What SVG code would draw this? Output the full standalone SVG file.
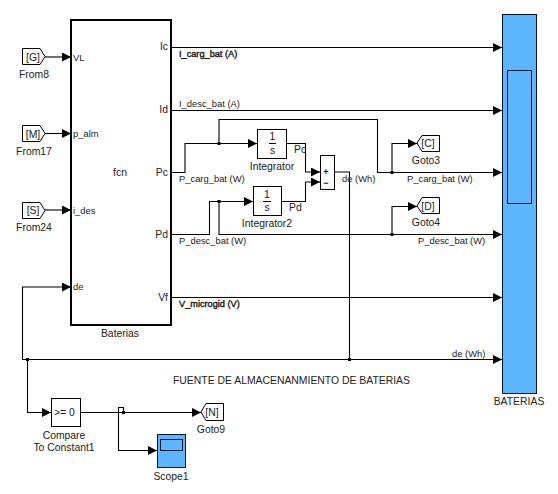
<svg xmlns="http://www.w3.org/2000/svg" width="558" height="494" viewBox="0 0 558 494">
<style>
text{font-family:"Liberation Sans",Arial,sans-serif;font-size:10.4px;fill:#222}
.m{text-anchor:middle}
.e{text-anchor:end}
.l{font-size:9.4px}
.b{font-size:9.2px;fill:#111;stroke:#111;stroke-width:.35px}
.g{font-weight:bold;font-size:9px;fill:#111}
.w{fill:#fff;stroke:#000;stroke-width:1}
.s{fill:#5cb6fd;stroke:#001030;stroke-width:1}
.c path{fill:none;stroke:#000;stroke-width:1.1}
</style>
<defs>
<marker id="a" markerUnits="userSpaceOnUse" markerWidth="10" markerHeight="10" refX="9" refY="4.5" orient="auto"><path d="M0 0L9 4.5L0 9z" fill="#000"/></marker>
</defs>
<rect width="558" height="494" fill="#fff"/>
<g id="connectors" class="c">
<path d="M45 57H71" marker-end="url(#a)"/>
<path d="M45 133.500H71" marker-end="url(#a)"/>
<path d="M45 210H71" marker-end="url(#a)"/>
<path d="M171 47.500H502" marker-end="url(#a)"/>
<path d="M171 110.500H502" marker-end="url(#a)"/>
<path d="M171 172.500H185V143.500H257" marker-end="url(#a)"/>
<path d="M219 143.500V119.500H377.500V172.500H502" marker-end="url(#a)"/>
<path d="M171 234.500H209.500V201.500H253" marker-end="url(#a)"/>
<path d="M219 201.500V234.500H502" marker-end="url(#a)"/>
<path d="M287 143.500H305.500V172H320" marker-end="url(#a)"/>
<path d="M282 201.500H305.500V182H320" marker-end="url(#a)"/>
<path d="M335 172H349.500V359.500"/>
<path d="M392 172.500V143.500H417" marker-end="url(#a)"/>
<path d="M392 234.500V206.500H417" marker-end="url(#a)"/>
<path d="M171 297.500H502" marker-end="url(#a)"/>
<path d="M502 359.500H22.500V287H71" marker-end="url(#a)"/>
<path d="M490 359.500H502" marker-end="url(#a)"/>
<path d="M27.500 359.500V412.500H51" marker-end="url(#a)"/>
<path d="M80 412.500H201" marker-end="url(#a)"/>
<path d="M123.500 412.500V407.500H118.500V450.500H157" marker-end="url(#a)"/>
<g fill="#000">
<rect x="217.500" y="142" width="3" height="3"/>
<rect x="217.500" y="200" width="3" height="3"/>
<rect x="390.500" y="171" width="3" height="3"/>
<rect x="390.500" y="233" width="3" height="3"/>
<rect x="348" y="358" width="3" height="3"/>
<rect x="26" y="358" width="3" height="3"/>
<rect x="122" y="411" width="3" height="3"/>
</g>
</g>
<g id="from8"><path class="w" d="M22.500 48.500H40L45 56.500L40 64.500H22.500z"/><text class="m" x="33" y="61">[G]</text><text class="m" x="34" y="78">From8</text></g>
<g id="from17"><path class="w" d="M22.500 125.500H40L45 133.500L40 141.500H22.500z"/><text class="m" x="33" y="138">[M]</text><text class="m" x="34" y="155">From17</text></g>
<g id="from24"><path class="w" d="M22.500 202.500H40L45 210.500L40 218.500H22.500z"/><text class="m" x="33" y="214">[S]</text><text class="m" x="34" y="231">From24</text></g>
<g id="baterias-fcn">
<rect x="71" y="20" width="100" height="305" fill="#fff" stroke="#000" stroke-width="2"/>
<text class="l" x="73" y="61">VL</text><text class="l" x="73" y="137">p_alm</text><text class="l" x="73" y="214">i_des</text><text class="l" x="73" y="290">de</text>
<text class="m" x="120" y="176">fcn</text>
<text class="e" x="168" y="50">Ic</text><text class="e" x="168" y="113">Id</text><text class="e" x="168" y="176">Pc</text><text class="e" x="168" y="238">Pd</text><text class="e" x="168" y="301">Vf</text>
<text class="m" x="120" y="337">Baterias</text>
</g>
<g id="integrator"><rect class="w" x="257.500" y="129.500" width="29" height="29"/><text class="m" x="272.500" y="140">1</text><path d="M269 143.500H276" stroke="#000"/><text class="m" x="272.500" y="153.500">s</text><text class="m" x="272" y="170">Integrator</text><text x="294" y="153">Pc</text></g>
<g id="integrator2"><rect class="w" x="253.500" y="186.500" width="28" height="29"/><text class="m" x="267" y="198">1</text><path d="M263 201.500H271" stroke="#000"/><text class="m" x="267" y="211">s</text><text class="m" x="267" y="227">Integrator2</text><text x="289" y="211">Pd</text></g>
<g id="sum"><rect class="w" x="320.500" y="155.500" width="14" height="34"/><text class="m g" x="326" y="175">+</text><text class="m g" x="326" y="185.500">−</text></g>
<g id="goto3"><path class="w" d="M417 143L422 135.500H439.500V151.500H422z"/><text class="m" x="428" y="147">[C]</text><text class="m" x="426" y="164">Goto3</text></g>
<g id="goto4"><path class="w" d="M417 206L422 197.500H439.500V213.500H422z"/><text class="m" x="428" y="210">[D]</text><text class="m" x="426" y="226">Goto4</text></g>
<g id="bateria-sink"><rect class="s" x="502.500" y="14.500" width="34" height="379"/><rect class="s" x="507.500" y="70.500" width="24" height="133"/><text class="m" x="519" y="405">BATERIAS</text></g>
<g id="compare"><rect class="w" x="51.500" y="398.500" width="29" height="28"/><text x="54" y="416">&gt;= 0</text><text class="m" x="64" y="439">Compare</text><text class="m" x="64" y="451">To Constant1</text></g>
<g id="goto9"><path class="w" d="M201 412L206 403.500H223.500V420.500H206z"/><text class="m" x="212" y="416">[N]</text><text class="m" x="211" y="433">Goto9</text></g>
<g id="scope1"><rect class="s" x="157.500" y="434.500" width="28" height="33"/><rect class="s" x="160.500" y="439.500" width="22" height="11"/><text class="m" x="171" y="480">Scope1</text></g>
<g id="labels">
<text class="b" x="179" y="57">I_carg_bat (A)</text>
<text class="l" x="179" y="107">I_desc_bat (A)</text>
<text class="l" x="179" y="182">P_carg_bat (W)</text>
<text class="l" x="179" y="244">P_desc_bat (W)</text>
<text class="b" x="179" y="307">V_microgid (V)</text>
<text class="l" x="342" y="182">de (Wh)</text>
<text class="l" x="407" y="182">P_carg_bat (W)</text>
<text class="l" x="418" y="244">P_desc_bat (W)</text>
<text class="l" x="452" y="357">de (Wh)</text>
<text x="173" y="384">FUENTE DE ALMACENANMIENTO DE BATERIAS</text>
</g>
</svg>
